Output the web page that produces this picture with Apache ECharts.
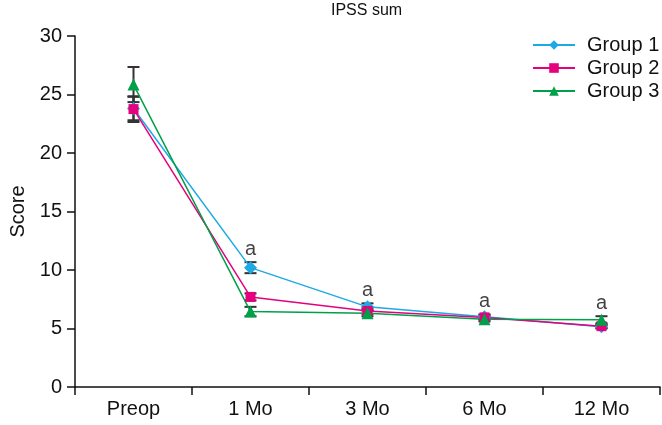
<!DOCTYPE html>
<html>
<head>
<meta charset="utf-8">
<script src="https://cdn.jsdelivr.net/npm/echarts@6/dist/echarts.min.js"></script>
<style>html,body{margin:0;padding:0;background:#fff}#c{width:662px;height:425px}</style>
</head>
<body>
<div id="c"></div>
<script>
const categories = ['Preop', '1 Mo', '3 Mo', '6 Mo', '12 Mo'];
const group1 = [23.8, 10.2, 6.85, 6.0, 5.15];
const group2 = [23.75, 7.7, 6.5, 5.95, 5.2];
const group3 = [25.85, 6.45, 6.3, 5.8, 5.75];
const group1Err = [1.0, 0.47, 0.3, 0.2, 0.15];
const group2Err = [1.1, 0.3, 0.25, 0.2, 0.15];
const group3Err = [1.5, 0.4, 0.25, 0.2, 0.3];
const sigLabels = ['', 'a', 'a', 'a', 'a'];
const yMin = 0, yMax = 30, yStep = 5;

const FONT = '"Liberation Sans", Arial, sans-serif';
const colors = ['#1DA9E6', '#E5007D', '#00A04A'];

function errData(means, errs) {
  return means.map((m, i) => [i, m - errs[i], m + errs[i]]);
}
function renderErr(params, api) {
  const x = api.value(0);
  const lo = api.coord([x, api.value(1)]);
  const hi = api.coord([x, api.value(2)]);
  const w = 6;
  const st = { stroke: '#333', lineWidth: 2 };
  return {
    type: 'group',
    children: [
      { type: 'line', shape: { x1: hi[0], y1: hi[1], x2: lo[0], y2: lo[1] }, style: st },
      { type: 'line', shape: { x1: hi[0] - w, y1: hi[1], x2: hi[0] + w, y2: hi[1] }, style: st },
      { type: 'line', shape: { x1: lo[0] - w, y1: lo[1], x2: lo[0] + w, y2: lo[1] }, style: st }
    ]
  };
}
const sigData = categories.map((c, i) => {
  const top = Math.max(group1[i] + group1Err[i], group2[i] + group2Err[i], group3[i] + group3Err[i]);
  return { value: [i, top], label: { formatter: sigLabels[i] } };
});

const chart = echarts.init(document.getElementById('c'));
chart.setOption({
  animation: false,
  title: {
    text: 'IPSS sum', left: 331, top: 3, padding: 0,
    textStyle: { fontFamily: FONT, fontSize: 16, fontWeight: 'normal', color: '#111' }
  },
  legend: {
    orient: 'vertical', left: 532, top: 35, padding: 0,
    itemWidth: 42, itemHeight: 12, itemGap: 3,
    data: ['Group 1', 'Group 2', 'Group 3'],
    textStyle: { fontFamily: FONT, fontSize: 20, color: '#111', padding: [0, 0, 0, 7] }
  },
  grid: { left: 75, right: 2, top: 36, bottom: 38, containLabel: false, outerBoundsMode: 'none' },
  xAxis: {
    type: 'category', data: categories, boundaryGap: true,
    axisLine: { lineStyle: { color: '#111', width: 1.5 } },
    axisTick: { show: true, length: 8, lineStyle: { color: '#111', width: 1.5 } },
    axisLabel: { fontFamily: FONT, fontSize: 20, color: '#111', margin: 12 },
    splitLine: { show: false }
  },
  yAxis: {
    type: 'value', min: yMin, max: yMax, interval: yStep,
    name: 'Score', nameLocation: 'middle', nameGap: 45,
    nameTextStyle: { fontFamily: FONT, fontSize: 20, color: '#111' },
    axisLine: { show: true, lineStyle: { color: '#111', width: 1.5 } },
    axisTick: { show: true, length: 8, lineStyle: { color: '#111', width: 1.5 } },
    axisLabel: { fontFamily: FONT, fontSize: 20, color: '#111', margin: 13 },
    splitLine: { show: false }
  },
  series: [
    { type: 'custom', renderItem: renderErr, data: errData(group1, group1Err), z: 1, silent: true },
    { type: 'custom', renderItem: renderErr, data: errData(group2, group2Err), z: 1, silent: true },
    { type: 'custom', renderItem: renderErr, data: errData(group3, group3Err), z: 1, silent: true },
    { name: 'Group 1', type: 'line', data: group1, symbol: 'diamond', symbolSize: 13,
      itemStyle: { color: colors[0] }, lineStyle: { color: colors[0], width: 1.5 }, z: 3 },
    { name: 'Group 2', type: 'line', data: group2, symbol: 'rect', symbolSize: 10,
      itemStyle: { color: colors[1] }, lineStyle: { color: colors[1], width: 1.5 }, z: 3 },
    { name: 'Group 3', type: 'line', data: group3, symbol: 'triangle', symbolSize: 12,
      itemStyle: { color: colors[2] }, lineStyle: { color: colors[2], width: 1.5 }, z: 3 },
    { type: 'scatter', data: sigData, symbolSize: 0, silent: true, z: 4,
      label: { show: true, position: 'top', distance: 3, fontFamily: FONT, fontSize: 20, color: '#111' } }
  ]
});
</script>
</body>
</html>
